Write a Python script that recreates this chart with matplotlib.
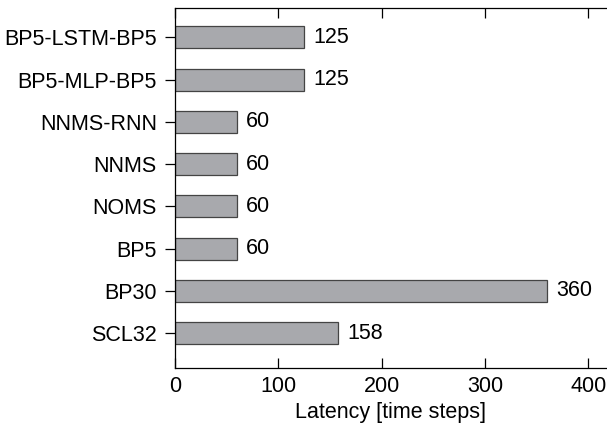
import numpy as np
import matplotlib.pyplot as plt

plt.rcParams['font.family'] = ['Liberation Sans', 'DejaVu Sans']

methods = ['SCL32', 'BP30', 'BP5', 'NOMS', 'NNMS', 'NNMS-RNN',
           'BP5-MLP-BP5', 'BP5-LSTM-BP5']
latency = [158, 360, 60, 60, 60, 60, 125, 125]

fig = plt.figure(figsize=(6.07, 4.28), dpi=100)
ax = fig.add_axes([0.288, 0.140, 0.710, 0.841])

y = np.arange(len(methods))
ax.barh(y, latency, height=0.52, color='#a8a9ad', edgecolor='#444444', linewidth=0.9)
for yi, v in zip(y, latency):
    ax.annotate(str(v), (v, yi), xytext=(6.5, 0), textcoords='offset points',
                va='center', ha='left', fontsize=15.5)

ax.set_yticks(y)
ax.set_yticklabels(methods, fontsize=15.5)
ax.set_xticks([0, 100, 200, 300, 400])
ax.tick_params(axis='x', labelsize=15.5, direction='in', top=True, length=7, width=0.9, pad=6)
ax.tick_params(axis='y', direction='out', length=7, width=0.9, pad=6)
ax.set_xlim(0, 417)
ax.set_ylim(-0.83, 7.69)
ax.spines['right'].set_visible(False)
for s in ['left', 'top', 'bottom']:
    ax.spines[s].set_linewidth(0.9)
ax.set_xlabel('Latency [time steps]', fontsize=15.5, labelpad=3)

fig.savefig('out.png', dpi=100)
